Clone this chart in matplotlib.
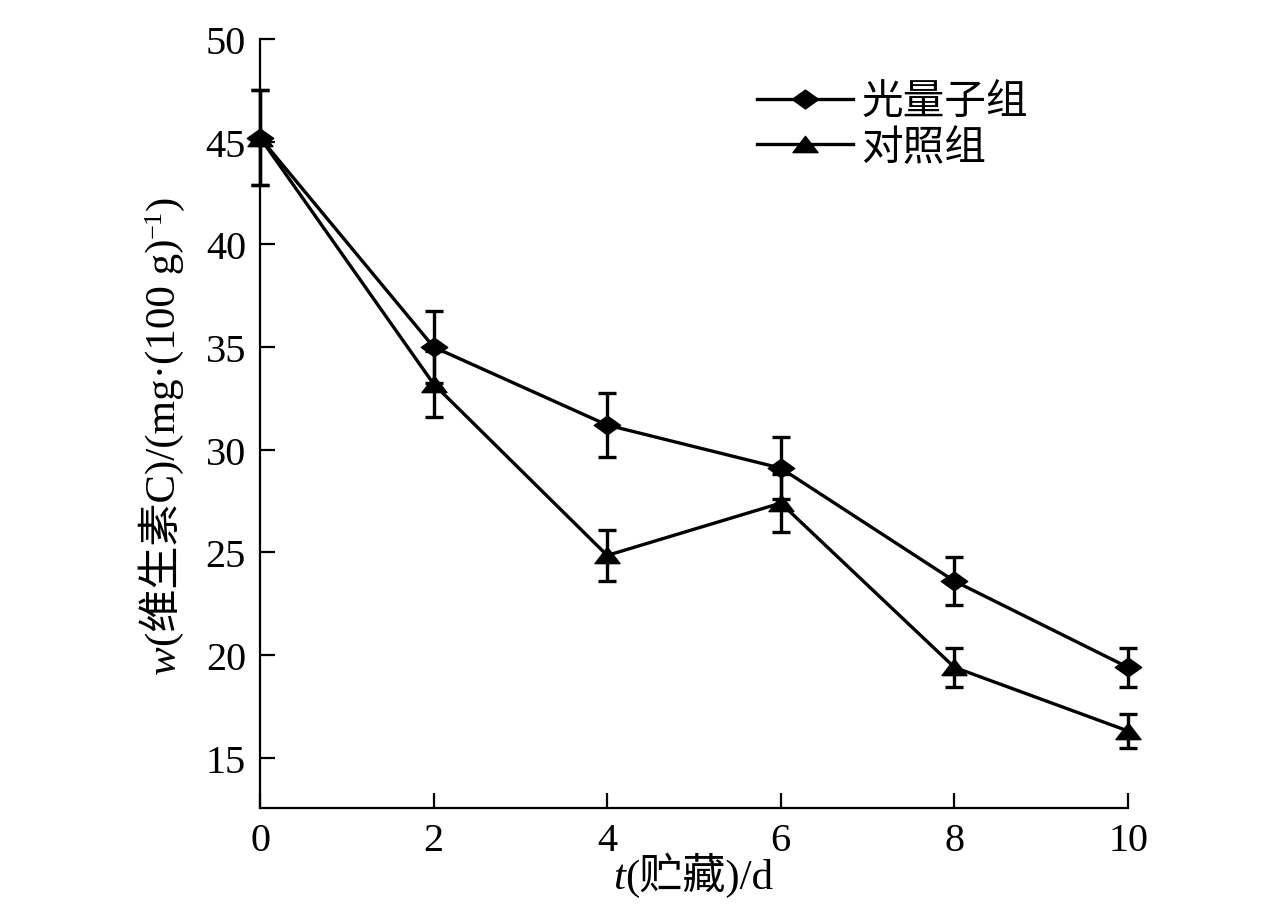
import matplotlib
matplotlib.use("Agg")
import matplotlib.pyplot as plt
from matplotlib.path import Path
from matplotlib.lines import Line2D

plt.rcParams['font.family'] = ['Liberation Serif', 'Noto Sans CJK SC']

# storage days and vitamin C content (mg / 100 g)
days = [0, 2, 4, 6, 8, 10]
light = [45.2, 35.0, 31.2, 29.1, 23.6, 19.4]
light_err = [2.3, 1.75, 1.55, 1.5, 1.17, 0.95]
ctrl = [45.2, 33.2, 24.85, 27.4, 19.4, 16.3]
ctrl_err = [2.3, 1.6, 1.25, 1.4, 0.95, 0.82]
series_names = ['光量子组', '对照组']
y_ticks = [15, 20, 25, 30, 35, 40, 45, 50]
x_ticks = [0, 2, 4, 6, 8, 10]

W, H = 1276, 912
fig = plt.figure(figsize=(W / 100, H / 100), dpi=100)
ax = fig.add_axes([260 / W, 1 - 809 / H, 868 / W, 769 / H])

diamond = Path([(-1.4, 0), (0, 1), (1.4, 0), (0, -1), (-1.4, 0)],
               [Path.MOVETO, Path.LINETO, Path.LINETO, Path.LINETO, Path.CLOSEPOLY])
triangle = Path([(-1, -0.65), (1, -0.65), (0, 0.65), (-1, -0.65)],
                [Path.MOVETO, Path.LINETO, Path.LINETO, Path.CLOSEPOLY])

style = dict(color='black', lw=2.4, elinewidth=2.4, capsize=6.5, capthick=2.4)
for ys, err, mk, ms in [(light, light_err, diamond, 19), (ctrl, ctrl_err, triangle, 18)]:
    lines, caps, bars = ax.errorbar(days, ys, yerr=err, marker=mk, markersize=ms, **style)
    for art in [lines, *caps, *bars]:
        art.set_clip_on(False)

ax.set_xlim(0, 10)
ax.set_ylim(12.55, 50)
ax.set_xticks(x_ticks)
ax.set_yticks(y_ticks)
ax.tick_params(direction='in', length=11, width=1.6, labelsize=29, pad=10)
for side in ['top', 'right']:
    ax.spines[side].set_visible(False)
for side in ['left', 'bottom']:
    ax.spines[side].set_linewidth(1.6)

handles = [Line2D([], [], color='black', lw=2.4, marker=diamond, markersize=19),
           Line2D([], [], color='black', lw=2.4, marker=triangle, markersize=18)]
ax.legend(handles, series_names, loc='upper left', bbox_to_anchor=(0.573, 0.941),
          frameon=False, fontsize=30, handlelength=2.3, handletextpad=0.2,
          labelspacing=0.15, borderpad=0, borderaxespad=0)


def draw_rich(x, y, pieces, vertical=False):
    # lay out text pieces one after another, centred on (x, y) in pixels
    r = fig.canvas.get_renderer()
    widths = []
    for s, props, rise in pieces:
        t = fig.text(0, 0, s, **props)
        widths.append(t.get_window_extent(r).width)
        t.remove()
    pos = -sum(widths) / 2
    for (s, props, rise), w in zip(pieces, widths):
        if vertical:
            px, py, rot = x - rise, y + pos, 90
        else:
            px, py, rot = x + pos, y + rise, 0
        fig.text(px / W, py / H, s, rotation=rot, rotation_mode='anchor',
                 ha='left', va='baseline', **props)
        pos += w


norm = dict(fontsize=31)
ital = dict(fontsize=31, fontstyle='italic')
small = dict(fontsize=19)

draw_rich(693, H - 889, [('t', ital, 0), ('(贮藏)/d', norm, 0)])
draw_rich(175, H - 435, [('w', ital, 0), ('(维生素C)/(mg·(100 g)', norm, 0),
                         ('−1', small, 14), (')', norm, 0)], vertical=True)

fig.savefig('out.png', dpi=100)
